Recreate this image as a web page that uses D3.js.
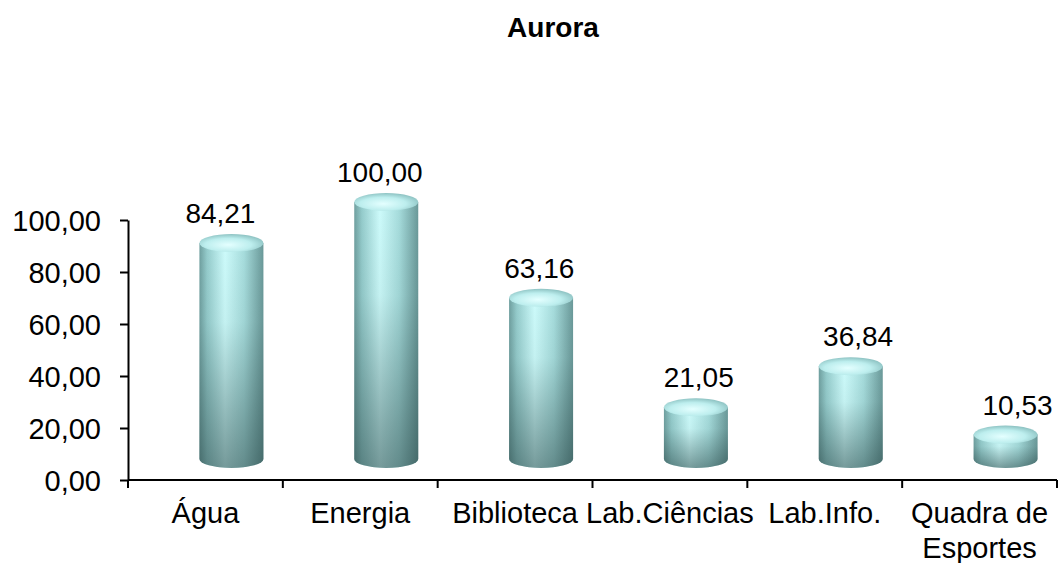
<!DOCTYPE html>
<html>
<head>
<meta charset="utf-8">
<script src="https://cdn.jsdelivr.net/npm/d3@7"></script>
<style>
  body { margin: 0; background: #fff; }
  text { font-family: "Liberation Sans", Arial, sans-serif; fill: #000; }
</style>
</head>
<body>
<div id="chart"></div>
<script>
// data
var title = "Aurora";
var categories = ["Água", "Energia", "Biblioteca", "Lab.Ciências", "Lab.Info.", "Quadra de\nEsportes"];
var values = [84.21, 100.00, 63.16, 21.05, 36.84, 10.53];
var yTicks = [0, 20, 40, 60, 80, 100];

var width = 1058, height = 563;
var margin = {top: 220, right: 1, bottom: 83, left: 128};

var svg = d3.select("#chart").append("svg")
    .attr("width", width)
    .attr("height", height);

var ptBR = d3.formatLocale({decimal: ",", thousands: ".", grouping: [3], currency: ["", ""]});
var fmt = ptBR.format(".2f");

var x = d3.scaleBand()
    .domain(categories)
    .range([margin.left, width - margin.right]);

var y = d3.scaleLinear()
    .domain([0, 100])
    .range([height - margin.bottom, margin.top]);

// gradients for the cylinders
var defs = svg.append("defs");
var side = defs.append("linearGradient").attr("id", "side")
    .attr("x1", "0").attr("x2", "1").attr("y1", "0").attr("y2", "0");
side.append("stop").attr("offset", "0%").attr("stop-color", "#6f9f9f");
side.append("stop").attr("offset", "12%").attr("stop-color", "#95cccc");
side.append("stop").attr("offset", "40%").attr("stop-color", "#cdfbfb");
side.append("stop").attr("offset", "70%").attr("stop-color", "#a6dcdc");
side.append("stop").attr("offset", "100%").attr("stop-color", "#6a9999");

var shade = defs.append("linearGradient").attr("id", "shade")
    .attr("x1", "0").attr("x2", "0").attr("y1", "0").attr("y2", "1");
shade.append("stop").attr("offset", "0%").attr("stop-color", "#1e3a3a").attr("stop-opacity", 0);
shade.append("stop").attr("offset", "35%").attr("stop-color", "#1e3a3a").attr("stop-opacity", 0.05);
shade.append("stop").attr("offset", "100%").attr("stop-color", "#1e3a3a").attr("stop-opacity", 0.5);

var cap = defs.append("radialGradient").attr("id", "cap")
    .attr("cx", "45%").attr("cy", "60%").attr("r", "60%");
cap.append("stop").attr("offset", "0%").attr("stop-color", "#e4ffff");
cap.append("stop").attr("offset", "60%").attr("stop-color", "#bdeeee");
cap.append("stop").attr("offset", "100%").attr("stop-color", "#8ec3c3");

// 3d offset of the cylinders from the axis plane
var dx = 26, rx = 32, ry = 9;
var baseY = y(0) - 21;

var bars = svg.append("g").selectAll("g")
    .data(values)
    .join("g");

function bodyPath(v, i) {
  var cx = x(categories[i]) + x.bandwidth() / 2 + dx;
  var top = y(v) - 18;
  return "M" + (cx - rx) + "," + top +
    "L" + (cx - rx) + "," + baseY +
    "A" + rx + "," + ry + " 0 0 0 " + (cx + rx) + "," + baseY +
    "L" + (cx + rx) + "," + top + "Z";
}

bars.append("path")
    .attr("d", bodyPath)
    .attr("fill", "url(#side)");
bars.append("path")
    .attr("d", bodyPath)
    .attr("fill", "url(#shade)");
bars.append("ellipse")
    .attr("cx", function(d, i) { return x(categories[i]) + x.bandwidth() / 2 + dx; })
    .attr("cy", function(d) { return y(d) - 18; })
    .attr("rx", rx)
    .attr("ry", ry)
    .attr("fill", "url(#cap)");

// value labels
svg.append("g").selectAll("text")
    .data(values)
    .join("text")
    .attr("x", function(d, i) { return x(categories[i]) + x.bandwidth() / 2 + 15 + 4.6 * i; })
    .attr("y", function(d) { return y(d) - 38; })
    .attr("text-anchor", "middle")
    .style("font-size", "28px")
    .text(function(d) { return fmt(d); });

// y axis
var yAxis = svg.append("g")
    .attr("transform", "translate(" + margin.left + ",0)")
    .call(d3.axisLeft(y).tickValues(yTicks).tickFormat(fmt).tickSize(8).tickSizeOuter(0).tickPadding(19));
yAxis.selectAll("text").style("font-size", "29px").attr("dy", "0.35em");
yAxis.selectAll("line, path").attr("stroke", "#000").attr("stroke-width", 2);

// x axis: ticks on band edges
var xAxis = svg.append("g")
    .attr("transform", "translate(0," + y(0) + ")");
xAxis.append("line")
    .attr("x1", margin.left).attr("x2", width - margin.right)
    .attr("stroke", "#000").attr("stroke-width", 2);
xAxis.selectAll(".tk")
    .data(categories.concat([null]))
    .join("line")
    .attr("class", "tk")
    .attr("x1", function(d) { return d === null ? width - margin.right : x(d); })
    .attr("x2", function(d) { return d === null ? width - margin.right : x(d); })
    .attr("y1", 0).attr("y2", 8)
    .attr("stroke", "#000").attr("stroke-width", 2);

var xl = xAxis.selectAll(".lbl")
    .data(categories)
    .join("text")
    .attr("class", "lbl")
    .attr("text-anchor", "middle")
    .style("font-size", "29px")
    .attr("transform", function(d) { return "translate(" + (x(d) + x.bandwidth() / 2) + ",43)"; });
xl.selectAll("tspan")
    .data(function(d) { return d.split("\n"); })
    .join("tspan")
    .attr("x", 0)
    .attr("dy", function(d, i) { return i === 0 ? 0 : 35; })
    .text(function(d) { return d; });

// title
svg.append("text")
    .attr("x", 553)
    .attr("y", 37)
    .attr("text-anchor", "middle")
    .style("font-size", "28px")
    .style("font-weight", "bold")
    .text(title);
</script>
</body>
</html>
